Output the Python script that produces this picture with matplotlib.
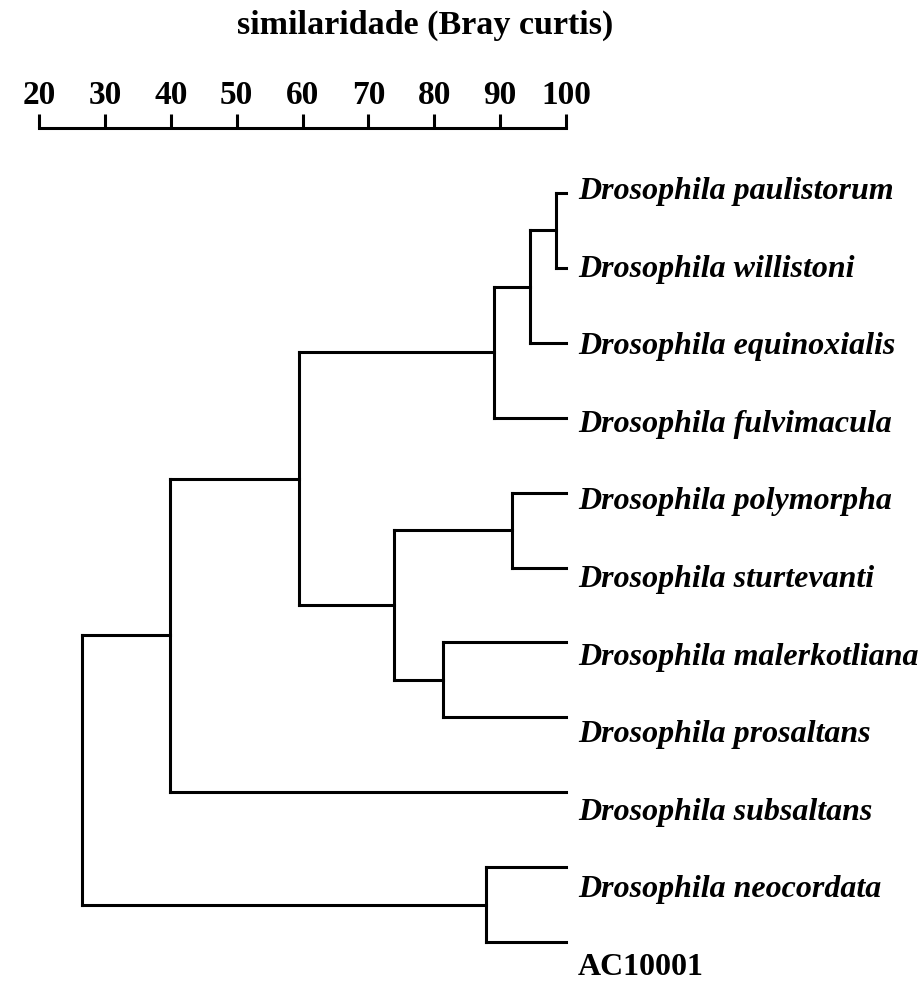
import matplotlib
matplotlib.use("Agg")
import matplotlib.pyplot as plt
from matplotlib.transforms import offset_copy

# Leaves, top to bottom
leaves = [
    "Drosophila paulistorum",
    "Drosophila willistoni",
    "Drosophila equinoxialis",
    "Drosophila fulvimacula",
    "Drosophila polymorpha",
    "Drosophila sturtevanti",
    "Drosophila malerkotliana",
    "Drosophila prosaltans",
    "Drosophila subsaltans",
    "Drosophila neocordata",
    "AC10001",
]

# Agglomeration steps: new cluster name, the two merged members, similarity (%)
join_names = ["A", "B", "C", "D", "E", "F", "G", "H", "I", "J"]
join_left = ["Drosophila paulistorum", "A", "B",
             "Drosophila polymorpha", "Drosophila malerkotliana", "D",
             "C", "G", "Drosophila neocordata", "H"]
join_right = ["Drosophila willistoni", "Drosophila equinoxialis", "Drosophila fulvimacula",
              "Drosophila sturtevanti", "Drosophila prosaltans", "E",
              "F", "Drosophila subsaltans", "AC10001", "I"]
join_similarity = [98.5, 94.6, 89.0, 91.8, 81.4, 73.9, 59.4, 39.9, 87.9, 26.5]

scale_ticks = [20, 30, 40, 50, 60, 70, 80, 90, 100]

W, H, DPI = 921, 985, 100
fig = plt.figure(figsize=(W / DPI, H / DPI), dpi=DPI)
ax = fig.add_axes([0, 0, 1, 1])

px_per_unit = 6.5875
x0_px = 39
ax.set_xlim(20 - x0_px / px_per_unit, 20 + (W - x0_px) / px_per_unit)
ax.set_ylim(H, 0)

serif = ["Liberation Serif", "DejaVu Serif"]
lw = 2.2

# vertical layout of leaves (pixel rows)
leaf_y0, leaf_dy = 193, 74.9
label_y0, label_dy = 190, 77.6

pos = {}
sim = {}
for i, name in enumerate(leaves):
    pos[name] = leaf_y0 + i * leaf_dy
    sim[name] = 100.0

for name, a, b, s in zip(join_names, join_left, join_right, join_similarity):
    for child in (a, b):
        ax.plot([sim[child], s], [pos[child], pos[child]], color="black",
                lw=lw, solid_capstyle="projecting")
    ax.plot([s, s], [pos[a], pos[b]], color="black", lw=lw,
            solid_capstyle="projecting")
    pos[name] = (pos[a] + pos[b]) / 2
    sim[name] = s

# leaf labels
label_tr = offset_copy(ax.transData, fig=fig, x=12, y=0, units="dots")
for i, name in enumerate(leaves):
    y = label_y0 + i * label_dy + 9
    italic = name.startswith("Drosophila")
    ax.text(100, y, name, transform=label_tr, ha="left", va="baseline",
            fontsize=23, fontweight="bold",
            fontstyle="italic" if italic else "normal", family=serif)

# similarity scale on the top spine
for side in ("left", "right", "bottom"):
    ax.spines[side].set_visible(False)
ax.spines["top"].set_position(("data", 128))
ax.spines["top"].set_bounds(20, 100)
ax.spines["top"].set_linewidth(lw)
ax.spines["top"].set_capstyle("projecting")
ax.xaxis.set_ticks_position("top")
ax.xaxis.set_label_position("top")
ax.set_xticks(scale_ticks)
ax.set_xticklabels([str(t) for t in scale_ticks])
ax.tick_params(axis="x", direction="out", length=10, width=lw, pad=2,
               labelsize=24)
for lab in ax.get_xticklabels():
    lab.set_fontfamily(serif)
    lab.set_fontweight("bold")
ax.set_yticks([])

fig.text(425 / W, 1 - 34 / H, "similaridade (Bray curtis)", ha="center",
         va="baseline", fontsize=24.5, fontweight="bold", family=serif)

fig.savefig("out.png", dpi=DPI, facecolor="white")
